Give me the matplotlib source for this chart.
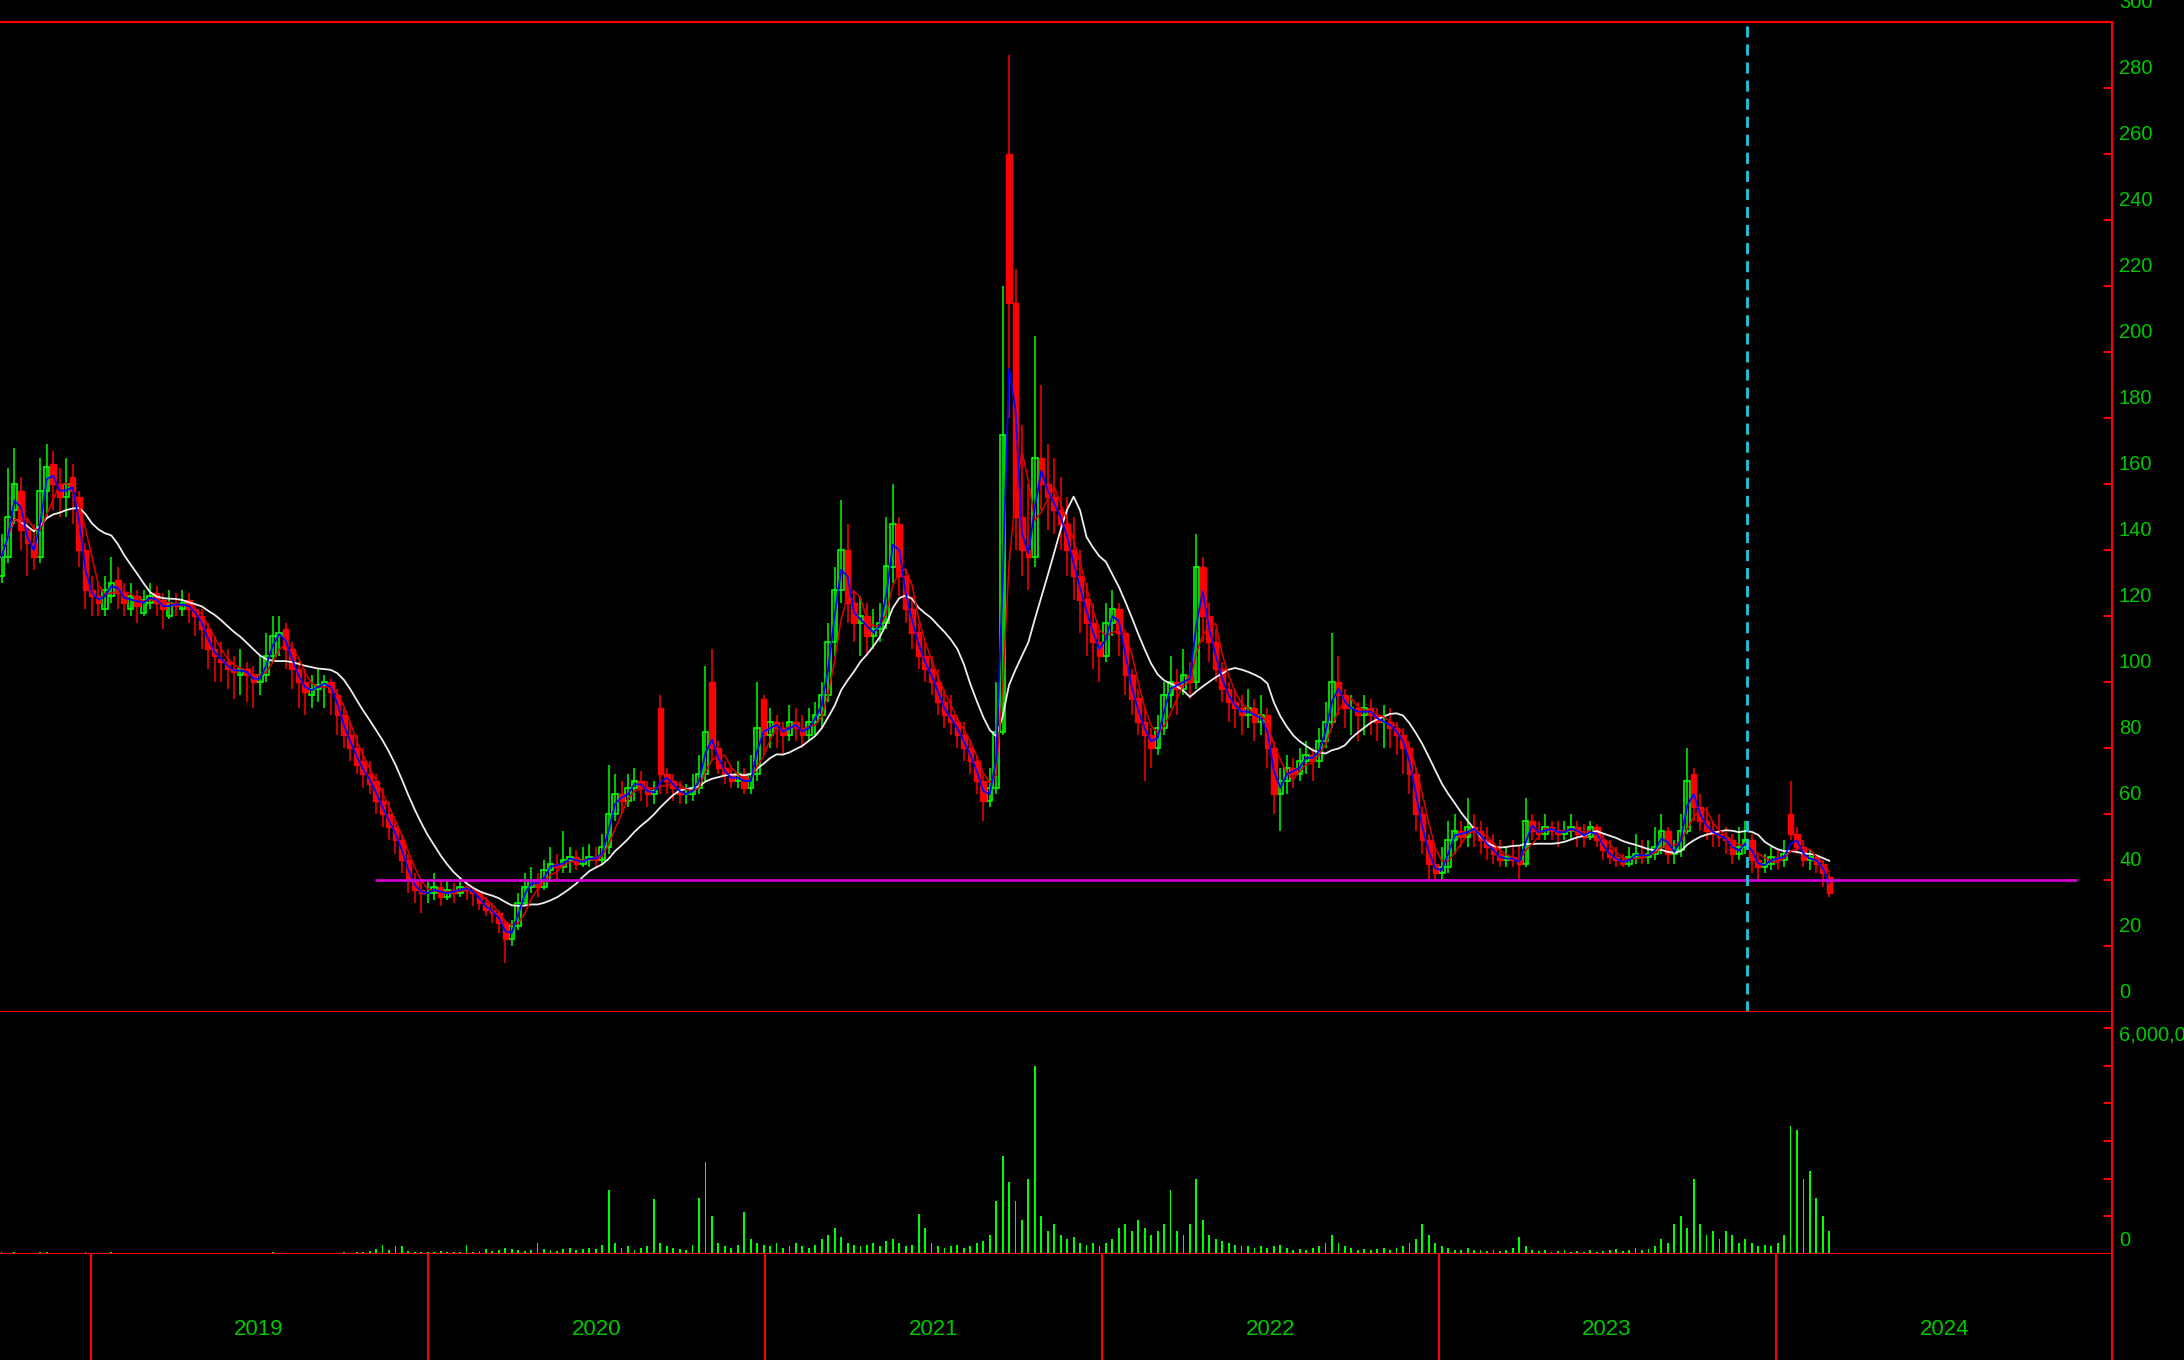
import matplotlib
matplotlib.use("Agg")
import matplotlib.pyplot as plt
import matplotlib.dates as mdates
import matplotlib.transforms as mtransforms
import numpy as np
import pandas as pd

plt.rcParams["font.family"] = ["Liberation Sans", "DejaVu Sans"]

# Weekly candles, first week starting 2018-09-24
first_week = "2018-09-26"

opens = [
    132, 138, 152, 158, 146, 142, 138, 158, 166, 160,
    156, 162, 156, 140, 128, 126, 122, 126, 131, 127,
    122, 126, 121, 124, 127, 125, 120, 124, 122, 125,
    122, 120, 116, 110, 107, 106, 104, 102, 104, 102,
    100, 102, 108, 114, 116, 110, 104, 100, 96, 98,
    99, 100, 96, 90, 84, 80, 76, 72, 70, 64,
    60, 56, 52, 46, 40, 37, 36, 36, 38, 35,
    37, 36, 38, 37, 36, 33, 31, 30, 27, 22,
    26, 33, 38, 40, 38, 43, 45, 44, 46, 47,
    45, 46, 47, 46, 50, 60, 66, 64, 68, 70,
    68, 66, 92, 72, 70, 68, 66, 66, 68, 72,
    100, 80, 74, 72, 70, 72, 68, 72, 95, 84,
    88, 86, 84, 88, 86, 84, 88, 90, 96, 112,
    128, 140, 124, 118, 120, 114, 116, 118, 135, 148,
    132, 122, 115, 108, 104, 100, 94, 90, 88, 84,
    80, 76, 70, 64, 68, 85, 260, 215, 150, 140,
    138, 168, 160, 156, 152, 148, 140, 132, 125, 118,
    112, 108, 118, 122, 115, 102, 95, 88, 84, 80,
    86, 96, 100, 98, 102, 100, 135, 120, 112, 104,
    98, 94, 92, 90, 92, 88, 90, 80, 66, 70,
    74, 72, 76, 78, 76, 82, 88, 100, 96, 92,
    92, 90, 92, 90, 88, 88, 86, 84, 80, 72,
    60, 52, 45, 42, 44, 52, 55, 53, 56, 55,
    52, 50, 48, 46, 47, 46, 45, 58, 55, 54,
    56, 55, 54, 55, 56, 54, 53, 56, 52, 49,
    47, 46, 45, 47, 48, 47, 48, 50, 55, 48,
    49, 55, 72, 62, 58, 55, 54, 53, 52, 48,
    50, 52, 46, 44, 45, 47, 46, 60, 54, 50,
    46, 47, 45, 41,
]

highs = [
    145, 165, 171, 162, 150, 148, 168, 172, 170, 165,
    168, 166, 158, 142, 132, 130, 132, 138, 135, 130,
    130, 128, 128, 130, 129, 127, 128, 127, 128, 127,
    124, 122, 118, 114, 112, 110, 108, 110, 106, 105,
    108, 115, 120, 120, 118, 112, 106, 104, 102, 104,
    102, 101, 98, 92, 88, 84, 80, 76, 72, 68,
    64, 58, 54, 48, 42, 40, 40, 42, 40, 40,
    39, 41, 40, 38, 37, 35, 33, 31, 28, 28,
    36, 42, 44, 42, 46, 50, 48, 55, 50, 49,
    50, 51, 50, 54, 75, 72, 70, 72, 74, 73,
    70, 70, 96, 74, 72, 70, 69, 72, 78, 105,
    110, 82, 76, 75, 76, 74, 78, 100, 96, 92,
    90, 88, 93, 92, 90, 92, 94, 100, 118, 135,
    155, 148, 128, 126, 124, 122, 124, 150, 160, 150,
    134, 126, 118, 112, 108, 104, 98, 96, 90, 88,
    82, 78, 72, 74, 100, 220, 290, 225, 178, 160,
    205, 190, 172, 168, 162, 156, 150, 140, 130, 124,
    116, 124, 128, 124, 116, 104, 98, 92, 86, 90,
    100, 108, 104, 110, 106, 145, 138, 124, 116, 106,
    100, 98, 96, 98, 95, 96, 92, 82, 74, 78,
    77, 80, 82, 80, 86, 94, 115, 108, 98, 96,
    94, 96, 95, 92, 93, 92, 88, 86, 82, 74,
    62, 54, 50, 50, 58, 60, 58, 65, 60, 58,
    56, 54, 52, 50, 52, 50, 65, 60, 58, 60,
    58, 58, 58, 60, 58, 57, 58, 57, 54, 52,
    50, 48, 50, 54, 52, 52, 56, 60, 56, 52,
    60, 80, 74, 66, 62, 58, 60, 56, 54, 56,
    58, 54, 48, 48, 50, 49, 52, 70, 56, 52,
    49, 48, 46, 42,
]

lows = [
    130, 136, 148, 140, 132, 134, 136, 150, 152, 150,
    150, 148, 135, 122, 120, 120, 120, 124, 122, 120,
    120, 118, 120, 122, 120, 116, 119, 120, 120, 118,
    114, 110, 104, 100, 100, 98, 95, 96, 94, 92,
    96, 100, 106, 108, 104, 98, 92, 90, 92, 94,
    92, 90, 84, 80, 76, 72, 68, 66, 60, 56,
    52, 48, 42, 36, 33, 30, 33, 34, 32, 34,
    33, 35, 34, 32, 31, 29, 27, 24, 15, 20,
    25, 32, 36, 35, 37, 40, 40, 42, 42, 43,
    44, 44, 44, 45, 48, 58, 60, 62, 64, 64,
    62, 63, 66, 66, 64, 63, 63, 64, 66, 70,
    76, 72, 69, 68, 68, 66, 66, 70, 78, 80,
    80, 78, 82, 82, 80, 82, 84, 86, 94, 108,
    124, 118, 112, 108, 108, 110, 112, 116, 130, 126,
    118, 110, 104, 100, 96, 90, 86, 84, 80, 76,
    72, 66, 58, 62, 66, 84, 180, 140, 132, 128,
    135, 152, 146, 145, 140, 132, 125, 115, 108, 104,
    100, 106, 114, 108, 96, 90, 84, 70, 74, 78,
    84, 92, 90, 96, 95, 98, 112, 106, 100, 94,
    88, 86, 84, 86, 82, 84, 74, 60, 55, 66,
    68, 70, 72, 70, 74, 80, 86, 90, 86, 84,
    82, 84, 84, 82, 80, 80, 78, 72, 66, 55,
    48, 40, 40, 40, 42, 48, 50, 50, 50, 48,
    46, 45, 44, 44, 44, 40, 44, 52, 52, 52,
    52, 50, 52, 52, 50, 50, 52, 50, 46, 45,
    44, 44, 44, 45, 45, 45, 46, 48, 45, 45,
    47, 54, 58, 55, 52, 50, 50, 48, 45, 46,
    48, 42, 40, 42, 43, 43, 44, 52, 48, 44,
    43, 42, 38, 35,
]

closes = [
    138, 150, 160, 146, 142, 138, 158, 165, 160, 156,
    160, 158, 140, 128, 126, 124, 128, 130, 127, 124,
    126, 123, 125, 126, 124, 122, 124, 123, 124, 122,
    120, 116, 110, 108, 106, 104, 103, 104, 102, 100,
    102, 108, 114, 115, 110, 104, 100, 97, 98, 99,
    100, 97, 90, 84, 80, 75, 72, 69, 64, 60,
    56, 52, 46, 40, 37, 36, 36, 38, 35, 37,
    36, 38, 37, 36, 33, 31, 30, 27, 22, 26,
    33, 38, 40, 38, 43, 45, 44, 46, 47, 45,
    46, 47, 46, 50, 60, 66, 64, 68, 70, 68,
    66, 67, 72, 70, 68, 66, 66, 68, 72, 85,
    80, 74, 72, 70, 72, 68, 72, 86, 84, 88,
    86, 84, 88, 86, 84, 88, 90, 96, 112, 128,
    140, 124, 118, 120, 114, 116, 118, 135, 148, 132,
    122, 115, 108, 104, 100, 94, 90, 88, 84, 80,
    76, 70, 64, 68, 85, 175, 215, 150, 140, 138,
    168, 160, 156, 152, 148, 140, 132, 125, 118, 112,
    108, 118, 122, 115, 102, 95, 88, 84, 80, 86,
    96, 100, 98, 102, 100, 135, 120, 112, 104, 98,
    94, 92, 90, 92, 88, 90, 80, 66, 70, 74,
    72, 76, 78, 76, 82, 88, 100, 96, 92, 92,
    90, 92, 90, 88, 88, 86, 84, 80, 72, 60,
    52, 45, 42, 44, 52, 55, 53, 56, 55, 52,
    50, 48, 46, 47, 46, 45, 58, 55, 54, 56,
    55, 54, 55, 56, 54, 53, 56, 52, 49, 47,
    46, 45, 47, 48, 47, 48, 50, 55, 48, 49,
    55, 70, 62, 58, 55, 54, 53, 52, 48, 50,
    52, 46, 44, 45, 47, 46, 48, 54, 50, 46,
    47, 45, 42, 36,
]

# peak volume per week, millions of shares
volumes_m = [
    0.05, 0.03, 0.04, 0.02, 0.03, 0.02, 0.04, 0.05, 0.03, 0.02,
    0.03, 0.02, 0.03, 0.05, 0.02, 0.01, 0.02, 0.04, 0.02, 0.01,
    0.01, 0.02, 0.01, 0.01, 0.02, 0.01, 0.01, 0.03, 0.01, 0.01,
    0.02, 0.01, 0.01, 0.02, 0.01, 0.01, 0.01, 0.02, 0.01, 0.01,
    0.01, 0.02, 0.04, 0.02, 0.01, 0.03, 0.01, 0.02, 0.01, 0.02,
    0.02, 0.03, 0.02, 0.04, 0.03, 0.05, 0.04, 0.08, 0.12, 0.25,
    0.10, 0.22, 0.20, 0.08, 0.05, 0.04, 0.06, 0.05, 0.08, 0.04,
    0.06, 0.05, 0.25, 0.06, 0.08, 0.12, 0.07, 0.10, 0.15, 0.12,
    0.10, 0.08, 0.10, 0.30, 0.12, 0.10, 0.08, 0.12, 0.15, 0.10,
    0.12, 0.15, 0.12, 0.25, 1.70, 0.30, 0.15, 0.20, 0.10, 0.15,
    0.20, 1.45, 0.30, 0.20, 0.15, 0.12, 0.10, 0.25, 1.50, 2.45,
    1.00, 0.30, 0.20, 0.15, 0.25, 1.12, 0.40, 0.30, 0.25, 0.20,
    0.30, 0.15, 0.20, 0.30, 0.20, 0.15, 0.25, 0.40, 0.50, 0.70,
    0.45, 0.30, 0.25, 0.20, 0.25, 0.30, 0.20, 0.35, 0.40, 0.30,
    0.20, 0.25, 1.05, 0.70, 0.30, 0.20, 0.15, 0.20, 0.25, 0.15,
    0.20, 0.30, 0.35, 0.50, 1.40, 2.60, 1.90, 1.40, 0.90, 2.00,
    5.00, 1.00, 0.60, 0.80, 0.50, 0.40, 0.45, 0.30, 0.25, 0.30,
    0.20, 0.30, 0.40, 0.70, 0.80, 0.60, 0.90, 0.70, 0.50, 0.60,
    0.80, 1.70, 0.60, 0.50, 0.80, 2.00, 0.90, 0.50, 0.40, 0.35,
    0.30, 0.25, 0.20, 0.20, 0.15, 0.20, 0.15, 0.20, 0.25, 0.15,
    0.10, 0.12, 0.10, 0.15, 0.20, 0.30, 0.50, 0.30, 0.20, 0.15,
    0.10, 0.12, 0.10, 0.12, 0.15, 0.10, 0.15, 0.20, 0.30, 0.40,
    0.80, 0.50, 0.30, 0.20, 0.15, 0.10, 0.10, 0.15, 0.10, 0.10,
    0.08, 0.10, 0.08, 0.10, 0.15, 0.45, 0.20, 0.10, 0.08, 0.10,
    0.06, 0.08, 0.10, 0.06, 0.08, 0.05, 0.10, 0.06, 0.08, 0.10,
    0.12, 0.08, 0.10, 0.15, 0.10, 0.12, 0.20, 0.40, 0.30, 0.80,
    1.00, 0.70, 2.00, 0.80, 0.50, 0.60, 0.40, 0.60, 0.50, 0.30,
    0.40, 0.30, 0.20, 0.25, 0.20, 0.30, 0.50, 3.40, 3.30, 2.00,
    2.20, 1.50, 1.00, 0.60,
]

years = [2019, 2020, 2021, 2022, 2023, 2024]
price_ticks = list(range(0, 301, 20))
support_level = 40
support_start, support_end = "2019-11-05", "2024-11-23"
marker_date = "2023-12-01"

RED = "#ff0000"
GREEN = "#00ff00"
TXT = "#00c800"

dates = pd.date_range(first_week, periods=len(closes), freq="7D")
x = mdates.date2num(dates)
o = np.array(opens, float)
h = np.array(highs, float)
l = np.array(lows, float)
c = np.array(closes, float)
vol = np.array(volumes_m) * 1e6

W, H = 2184, 1360


def box(left, top, right, bottom):
    return [left / W, 1 - bottom / H, (right - left) / W, (bottom - top) / H]


fig = plt.figure(figsize=(W / 100, H / 100), dpi=100, facecolor="black")
ax = fig.add_axes(box(0, 22, 2112, 1012))
axv = fig.add_axes(box(0, 1012, 2112, 1254))
axd = fig.add_axes(box(0, 1254, 2112, 1360))

jan2019 = mdates.date2num(pd.Timestamp("2019-01-01"))
px_day = 337 / 365.25
xmin = jan2019 - 91 / px_day
xmax = jan2019 + (2112 - 91) / px_day

for a in (ax, axv, axd):
    a.set_facecolor("black")
    a.set_xlim(xmin, xmax)
    a.tick_params(axis="x", bottom=False, labelbottom=False)
    a.tick_params(axis="y", left=False, labelleft=False)
    a.spines["left"].set_visible(False)
    for s in ("top", "bottom", "right"):
        a.spines[s].set_color(RED)
        a.spines[s].set_linewidth(1.5)

# candles: hollow green for up weeks, solid red for down weeks
up = c >= o
ax.vlines(x[up], l[up], h[up], color=GREEN, lw=1.1)
ax.vlines(x[~up], l[~up], h[~up], color=RED, lw=1.1)
ax.bar(x[up], c[up] - o[up], bottom=o[up], width=6,
       facecolor="black", edgecolor=GREEN, lw=1.2)
ax.bar(x[~up], o[~up] - c[~up], bottom=c[~up], width=6,
       facecolor=RED, edgecolor=RED, lw=1)

# moving averages
s = pd.Series(c)
ax.plot(x, s.rolling(12, min_periods=1).mean(), color="#eeeeee", lw=1.3)
ax.plot(x, s.rolling(4, min_periods=1).mean(), color="#dd0000", lw=1.1)
ax.plot(x, s.rolling(2, min_periods=1).mean(), color="#0000ff", lw=1.3)

ax.hlines(support_level, mdates.date2num(pd.Timestamp(support_start)),
          mdates.date2num(pd.Timestamp(support_end)), color="#d000d0", lw=2)
ax.axvline(mdates.date2num(pd.Timestamp(marker_date)), color="#20c8e0",
           lw=2, ls=(0, (4, 2.5)))

ax.set_ylim(0, 300)
ax.set_yticks(price_ticks)
ax.yaxis.tick_right()
ax.tick_params(axis="y", direction="in", length=6, width=1.5, color=RED,
               labelright=False)
lab_tr = mtransforms.offset_copy(ax.get_yaxis_transform(), fig=fig,
                                 x=7, y=20, units="dots")
for v in price_ticks:
    ax.text(1.0, v, str(v), transform=lab_tr, ha="left", va="center",
            color=TXT, fontsize=14.5, clip_on=False)

# volume
axv.bar(x, vol, width=2, color=GREEN, lw=0)
axv.set_ylim(0, 6e6 * 242 / 226)
axv.set_yticks(np.arange(0, 6e6 + 1, 1e6))
axv.yaxis.tick_right()
axv.tick_params(axis="y", direction="in", length=6, width=1.5, color=RED,
                labelright=False)
axv.spines["top"].set_visible(False)
top_tr = mtransforms.offset_copy(axv.get_yaxis_transform(), fig=fig,
                                 x=7, y=-7, units="dots")
zero_tr = mtransforms.offset_copy(axv.get_yaxis_transform(), fig=fig,
                                  x=7, y=13, units="dots")
axv.text(1.0, 6e6, "6,000,000", transform=top_tr, ha="left", va="center",
         color=TXT, fontsize=14.5, clip_on=False)
axv.text(1.0, 0, "0", transform=zero_tr, ha="left", va="center",
         color=TXT, fontsize=14.5, clip_on=False)

# year strip
axd.set_ylim(0, 1)
axd.set_yticks([])
axd.spines["top"].set_visible(False)
axd.spines["bottom"].set_visible(False)
for yr in years:
    axd.axvline(mdates.date2num(pd.Timestamp(f"{yr}-01-01")), color=RED, lw=1.5)
    axd.text(mdates.date2num(pd.Timestamp(f"{yr}-07-02")), 0.29, str(yr),
             ha="center", va="center", color=TXT, fontsize=16)

fig.savefig("out.png", dpi=100, facecolor="black")
